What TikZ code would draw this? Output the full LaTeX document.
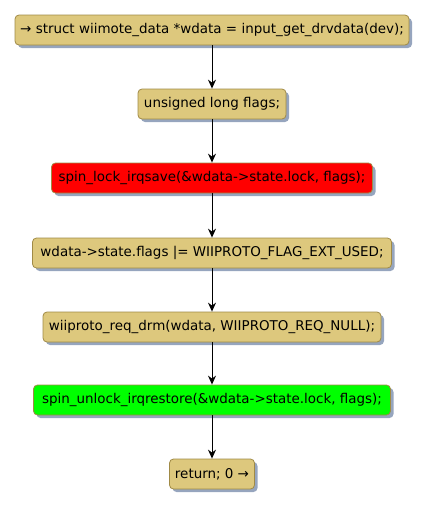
\documentclass[tikz,border=0pt]{standalone}
\usepackage{fontspec}
\setmainfont{DejaVu Sans}
\usetikzlibrary{arrows.meta,shadows}
\definecolor{boxfill}{RGB}{221,200,125}
\definecolor{boxline}{RGB}{160,138,70}
\definecolor{shadowc}{RGB}{150,165,190}
\definecolor{lockred}{RGB}{255,0,0}
\definecolor{unlockgreen}{RGB}{0,255,0}
\tikzset{
  act/.style={draw=boxline, line width=0.8pt, fill=boxfill, rounded corners=4pt,
    minimum height=30pt, inner sep=0pt, font=\fontsize{13.45}{15}\selectfont,
    drop shadow={shadow xshift=3pt, shadow yshift=-3pt, fill=shadowc, opacity=1}},
  flow/.style={-{Stealth[length=9pt,width=8pt,inset=3pt]}, line width=0.9pt}
}
\begin{document}
\begin{tikzpicture}[x=1pt,y=-1pt]
\useasboundingbox (0,0) rectangle (427,507);
\node[act, minimum width=394pt] (b1) at (212,30) {→ struct wiimote\_data *wdata = input\_get\_drvdata(dev);};
\node[act, minimum width=148pt] (b2) at (212,104) {unsigned long flags;};
\node[act, minimum width=321pt, fill=lockred] (b3) at (212,178) {spin\_lock\_irqsave(\&wdata->state.lock, flags);};
\node[act, minimum width=359pt] (b4) at (212,253) {wdata->state.flags |= WIIPROTO\_FLAG\_EXT\_USED;};
\node[act, minimum width=338pt] (b5) at (212,327) {wiiproto\_req\_drm(wdata, WIIPROTO\_REQ\_NULL);};
\node[act, minimum width=357pt, fill=unlockgreen] (b6) at (212,400) {spin\_unlock\_irqrestore(\&wdata->state.lock, flags);};
\node[act, minimum width=85pt] (b7) at (212,474) {return; 0 →};
\draw[flow] (b1.south) -- (b2.north);
\draw[flow] (b2.south) -- (b3.north);
\draw[flow] (b3.south) -- (b4.north);
\draw[flow] (b4.south) -- (b5.north);
\draw[flow] (b5.south) -- (b6.north);
\draw[flow] (b6.south) -- (b7.north);
\end{tikzpicture}
\end{document}
